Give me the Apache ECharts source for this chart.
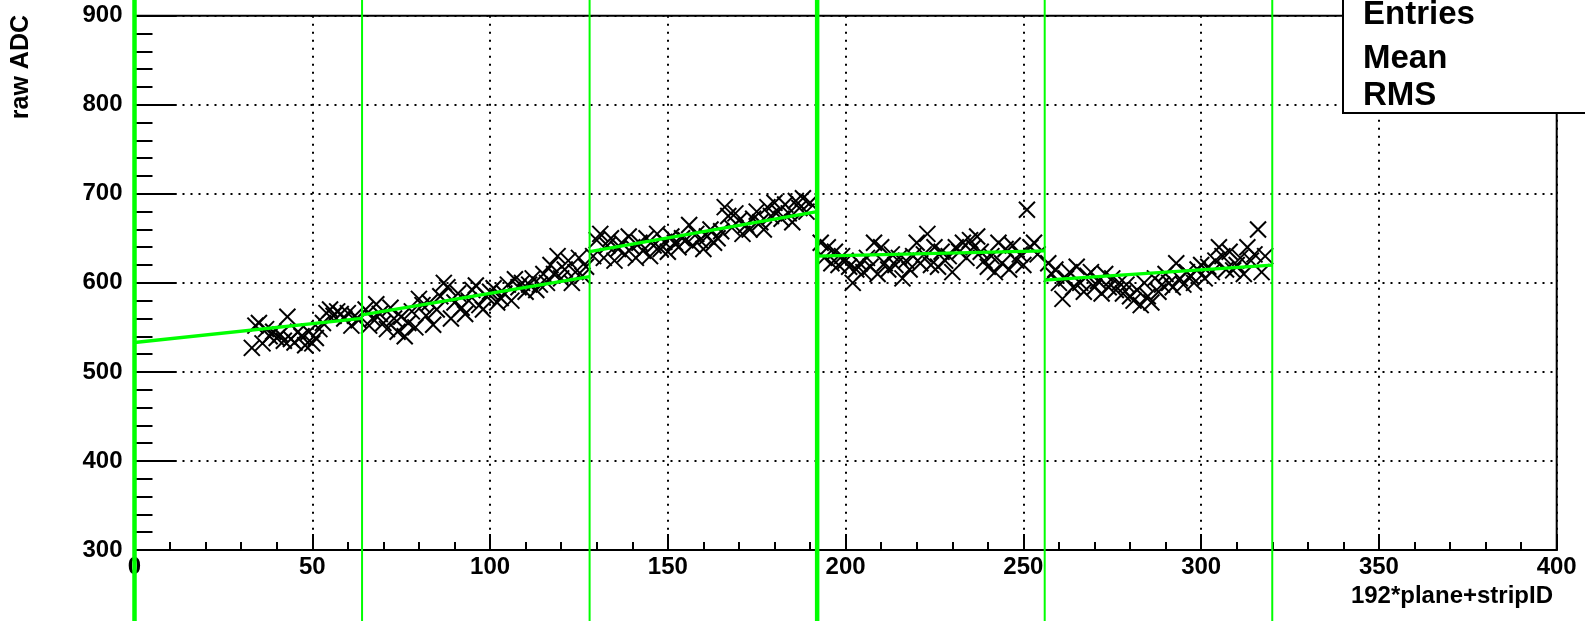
<!DOCTYPE html>
<html>
<head>
<meta charset="utf-8">
<script src="https://cdn.jsdelivr.net/npm/echarts@6/dist/echarts.min.js"></script>
<style>
html,body{margin:0;padding:0;background:#fff;}
#chart{width:1585px;height:621px;}
</style>
</head>
<body>
<div id="chart"></div>
<script>
// ---- data ----
const xTitle = '192*plane+stripID';
const yTitle = 'raw ADC';
const statLabels = ['Entries', 'Mean', 'RMS'];

// first strip of each block of measured points
const segStarts = [33, 65, 129, 193, 257];
const seg1Values = [527,552,555,532,548,540,545,538,542,535,562,537,533,545,540,530,545,532,538,548,555,566,570,563,568,565,560,566,552,563,558];
const seg2Values = [570,552,560,576,565,555,548,572,560,545,562,540,555,568,550,582,575,563,578,553,570,585,600,595,560,578,588,572,565,580,592,597,575,570,585,590,594,578,583,588,598,580,604,595,600,590,598,605,592,598,610,600,620,610,630,605,615,625,600,612,628,608,618];
const seg3Values = [630,648,655,628,642,650,625,638,645,632,652,640,628,645,636,650,630,642,655,638,646,635,652,645,640,650,648,665,642,655,648,638,652,660,645,650,658,685,675,662,678,670,655,665,660,672,680,668,660,685,675,690,680,672,688,678,668,692,684,695,680,690];
const seg4Values = [645,628,640,622,635,620,630,625,618,600,615,622,612,628,618,645,610,640,622,615,632,620,628,605,625,615,630,645,622,632,655,620,640,618,635,625,630,612,640,635,645,628,648,640,652,635,625,618,630,612,645,622,638,615,642,625,632,620,682,640,645,632];
const seg5Values = [622,610,615,600,582,605,612,595,618,600,590,608,612,595,602,588,610,595,605,592,600,588,598,585,580,592,575,600,585,578,605,590,598,610,600,595,622,605,598,612,608,600,615,620,605,618,612,625,640,630,615,635,614,620,628,610,640,625,632,660,612,630];
const segValues = [seg1Values, seg2Values, seg3Values, seg4Values, seg5Values];

// fitted straight lines per block: [xStart, xEnd], [yStart, yEnd]
const fitX = [[0,64],[64,128],[128,192],[192,256],[256,320]];
const fitY = [[533,560],[564,607],[635,680],[630,636],[603,620]];

// vertical block boundaries
const boundaries = [0, 64, 128, 192, 256, 320];

// axes
const xMin = 0, xMax = 400, xStep = 50;
const yMin = 300, yMax = 900, yStep = 100;

// ---- build ----
const points = [];
segValues.forEach((vals, s) => {
  vals.forEach((v, i) => points.push([segStarts[s] + i, v]));
});

const GREEN = '#00ff00';
const FONT = '"Liberation Sans", Arial, Helvetica, sans-serif';

const chart = echarts.init(document.getElementById('chart'), null, {renderer: 'canvas'});

const fitSeries = fitX.map((xs, k) => ({
  type: 'line',
  data: [[xs[0], fitY[k][0]], [xs[1], fitY[k][1]]],
  symbol: 'none',
  lineStyle: {color: GREEN, width: 3.3},
  z: 4,
  silent: true,
  animation: false
}));

const option = {
  animation: false,
  backgroundColor: '#fff',
  grid: {
    left: 134.5, top: 15.7, right: 28.3, bottom: 71,
    show: true, borderColor: '#000', borderWidth: 2,
    backgroundColor: 'transparent',
    containLabel: false,
    outerBoundsMode: 'none'
  },
  xAxis: {
    type: 'value', min: xMin, max: xMax, interval: xStep,
    axisLine: {show: true, onZero: false, lineStyle: {color: '#000', width: 2}},
    axisTick: {show: true, inside: true, length: 16, lineStyle: {color: '#000', width: 2}},
    minorTick: {show: true, splitNumber: 5, length: 8, lineStyle: {color: '#000', width: 2}},
    axisLabel: {color: '#000', fontFamily: FONT, fontWeight: 'bold', fontSize: 24, margin: 5},
    splitLine: {show: true, lineStyle: {color: '#000', width: 2, type: [2, 6]}},
    minorSplitLine: {show: false}
  },
  yAxis: {
    type: 'value', min: yMin, max: yMax, interval: yStep,
    axisLine: {show: true, onZero: false, lineStyle: {color: '#000', width: 2}},
    axisTick: {show: true, inside: true, length: 42, lineStyle: {color: '#000', width: 2}},
    minorTick: {show: true, splitNumber: 5, length: 18, lineStyle: {color: '#000', width: 2}},
    axisLabel: {color: '#000', fontFamily: FONT, fontWeight: 'bold', fontSize: 24, margin: 12},
    splitLine: {show: true, lineStyle: {color: '#000', width: 2, type: [2, 6]}},
    minorSplitLine: {show: false}
  },
  series: [
    {
      type: 'custom',
      data: points,
      z: 3,
      clip: true,
      silent: true,
      renderItem: function (params, api) {
        const p = api.coord([api.value(0), api.value(1)]);
        const s = 8;
        const st = {stroke: '#000', lineWidth: 2};
        return {
          type: 'group',
          children: [
            {type: 'line', shape: {x1: p[0]-s, y1: p[1]-s, x2: p[0]+s, y2: p[1]+s}, style: st},
            {type: 'line', shape: {x1: p[0]-s, y1: p[1]+s, x2: p[0]+s, y2: p[1]-s}, style: st}
          ]
        };
      }
    },
    ...fitSeries,
    {
      type: 'custom',
      data: boundaries.map(b => [b, yMin]),
      z: 5,
      clip: false,
      silent: true,
      renderItem: function (params, api) {
        const xv = api.value(0);
        const p = api.coord([xv, api.value(1)]);
        const thick = (xv % 192 === 0);
        return {
          type: 'line',
          shape: {x1: p[0], y1: 0, x2: p[0], y2: api.getHeight()},
          style: {stroke: GREEN, lineWidth: thick ? 4.5 : 2}
        };
      }
    }
  ],
  graphic: [
    {
      type: 'text', x: 21, y: 15, rotation: Math.PI / 2, z: 20,
      style: {text: yTitle, fill: '#000', font: 'bold 25px ' + FONT, align: 'right', verticalAlign: 'middle'}
    },
    {
      type: 'text', x: 1553, y: 608, z: 20,
      style: {text: xTitle, fill: '#000', font: 'bold 24px ' + FONT, align: 'right', verticalAlign: 'bottom'}
    },
    {
      type: 'rect', z: 30,
      shape: {x: 1343, y: -5, width: 260, height: 118},
      style: {fill: '#fff', stroke: '#000', lineWidth: 2}
    },
    {
      type: 'text', x: 1363, y: -2, z: 31,
      style: {text: statLabels[0], fill: '#000', font: 'bold 33px ' + FONT, align: 'left', verticalAlign: 'top'}
    },
    {
      type: 'text', x: 1363, y: 42, z: 31,
      style: {text: statLabels[1], fill: '#000', font: 'bold 33px ' + FONT, align: 'left', verticalAlign: 'top'}
    },
    {
      type: 'text', x: 1363, y: 79, z: 31,
      style: {text: statLabels[2], fill: '#000', font: 'bold 33px ' + FONT, align: 'left', verticalAlign: 'top'}
    }
  ]
};
chart.setOption(option);
</script>
</body>
</html>
